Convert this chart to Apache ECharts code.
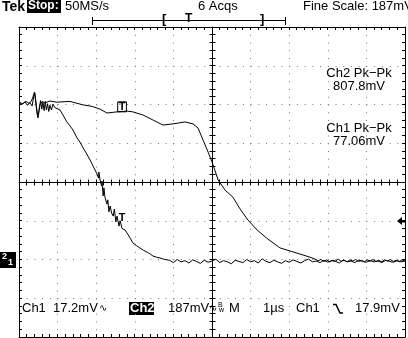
<!DOCTYPE html>
<html>
<head>
    <meta charset="utf-8">
    <title>Tek scope capture</title>
    <script src="https://cdn.jsdelivr.net/npm/echarts@6/dist/echarts.min.js"></script>
    <style>
        html, body { margin: 0; padding: 0; background: #fff; }
        #scope { width: 408px; height: 338px; }
    </style>
</head>
<body>
<div id="scope"></div>
<script>
    // time in µs (1 µs/div, trigger at centre), level in divisions from centre
    var xRange = [-5, 5];
    var yRange = [-4, 4];

    // Ch1: fast falling edge (17.2 mV/div)
    var ch1Trace = [
        [-5.00, 2.04], [-4.92, 2.00], [-4.85, 2.07], [-4.78, 1.98], [-4.72, 2.05], [-4.66, 1.96],
        [-4.62, 2.20], [-4.59, 2.30], [-4.56, 2.05], [-4.53, 1.80], [-4.50, 1.70], [-4.47, 1.95],
        [-4.44, 2.10], [-4.41, 1.88], [-4.38, 2.06], [-4.35, 1.84], [-4.32, 2.08], [-4.29, 1.86],
        [-4.26, 2.02], [-4.23, 1.82], [-4.20, 1.98], [-4.16, 1.86], [-4.12, 2.01], [-4.07, 1.92],
        [-4.02, 1.96], [-3.94, 1.86], [-3.86, 1.73], [-3.76, 1.55], [-3.68, 1.45], [-3.60, 1.34],
        [-3.50, 1.14], [-3.42, 1.03], [-3.34, 0.88], [-3.26, 0.75], [-3.16, 0.57], [-3.08, 0.41],
        [-2.98, 0.21], [-2.94, 0.10], [-2.93, 0.26], [-2.90, 0.05], [-2.86, -0.10], [-2.85, 0.02],
        [-2.82, -0.36], [-2.80, -0.15], [-2.77, -0.41], [-2.72, -0.57], [-2.70, -0.46], [-2.67, -0.77],
        [-2.64, -0.62], [-2.60, -0.80], [-2.56, -0.88], [-2.53, -0.70], [-2.49, -1.03], [-2.46, -0.88],
        [-2.41, -1.14], [-2.38, -1.00], [-2.33, -1.20], [-2.25, -1.24], [-2.20, -1.32], [-2.12, -1.45],
        [-2.05, -1.57], [-1.96, -1.64], [-1.87, -1.70], [-1.78, -1.76], [-1.68, -1.81], [-1.60, -1.86],
        [-1.53, -1.91], [-1.44, -1.94], [-1.35, -1.96], [-1.26, -1.99], [-1.17, -2.01],
        [-1.10, -2.02], [-1.00, -2.08], [-0.90, -2.00], [-0.80, -2.06], [-0.70, -2.03], [-0.60, -2.09],
        [-0.50, -2.01], [-0.40, -2.05], [-0.30, -2.10], [-0.20, -2.02], [-0.10, -2.07], [0.00, -2.04],
        [0.10, -1.99], [0.20, -2.08], [0.30, -2.03], [0.40, -2.06], [0.50, -2.11], [0.60, -2.02],
        [0.70, -2.05], [0.80, -2.08], [0.90, -2.00], [1.00, -2.06], [1.10, -2.03], [1.20, -2.09],
        [1.30, -1.98], [1.40, -2.05], [1.50, -2.08], [1.60, -2.02], [1.70, -2.06], [1.80, -2.10],
        [1.90, -2.03], [2.00, -2.07], [2.10, -2.01], [2.20, -2.05], [2.30, -2.09], [2.40, -2.03],
        [2.50, -1.99], [2.60, -2.06], [2.70, -2.04], [2.80, -2.08], [2.90, -2.02], [3.00, -2.07],
        [3.10, -2.03], [3.20, -2.05], [3.30, -2.09], [3.40, -2.01], [3.50, -2.06], [3.60, -2.04],
        [3.70, -2.08], [3.80, -2.02], [3.90, -2.05], [4.00, -2.07], [4.10, -2.03], [4.20, -2.06],
        [4.30, -2.04], [4.40, -2.08], [4.50, -2.02], [4.60, -2.05], [4.70, -2.07], [4.80, -2.03],
        [4.90, -2.06], [5.00, -2.04]
    ];

    // Ch2: slow falling edge (187 mV/div)
    var ch2Trace = [
        [-5.00, 2.06], [-4.90, 2.02], [-4.82, 2.08], [-4.74, 2.03], [-4.68, 2.09], [-4.64, 2.19],
        [-4.60, 2.32], [-4.57, 2.10], [-4.54, 1.81], [-4.51, 1.65], [-4.48, 1.85], [-4.45, 2.00],
        [-4.40, 2.08], [-4.33, 2.04], [-4.20, 2.09], [-4.02, 2.06], [-3.68, 2.08], [-3.34, 1.99],
        [-3.10, 1.95], [-2.90, 1.88], [-2.72, 1.78], [-2.46, 1.81], [-2.20, 1.83], [-2.05, 1.81],
        [-1.79, 1.73], [-1.53, 1.60], [-1.27, 1.47], [-1.01, 1.50], [-0.70, 1.55], [-0.49, 1.50],
        [-0.36, 1.39], [-0.23, 1.08], [-0.10, 0.77], [0.00, 0.52], [0.16, 0.05], [0.34, -0.21],
        [0.54, -0.39], [0.73, -0.70], [0.93, -0.98], [1.17, -1.24], [1.42, -1.45], [1.76, -1.70],
        [2.02, -1.78], [2.28, -1.86], [2.54, -1.94], [2.67, -1.99],
        [2.75, -2.03], [2.82, -2.00], [2.90, -2.05], [2.97, -2.01], [3.05, -2.06], [3.12, -2.02],
        [3.20, -2.04], [3.27, -1.99], [3.35, -2.05], [3.42, -2.02], [3.50, -2.06], [3.57, -2.01],
        [3.65, -2.04], [3.72, -2.00], [3.80, -2.05], [3.87, -2.02], [3.95, -2.06], [4.02, -2.01],
        [4.10, -2.04], [4.17, -2.00], [4.25, -2.05], [4.32, -2.02], [4.40, -2.06], [4.47, -2.01],
        [4.55, -2.04], [4.62, -2.00], [4.70, -2.05], [4.77, -2.02], [4.85, -2.06], [4.92, -2.01],
        [5.00, -2.04]
    ];

    // trigger point markers on the traces
    var ch1Marker = [-2.33, -0.93];
    var ch2Marker = [-2.33, 1.94];

    var topTexts = ['50MS/s', '6 Acqs', 'Fine Scale: 187mV'];
    var measureTexts = ['Ch2 Pk\u2212Pk', '807.8mV', 'Ch1 Pk\u2212Pk', '77.06mV'];
    var bottomTexts = ['Ch1', '17.2mV', 'Ch2', '187mV', 'M', '1\u00B5s', 'Ch1', '17.9mV'];

    var FONT = '"Liberation Sans", Arial, sans-serif';
    var INK = '#000';
    var DOT = '#7a7a7a';
    var TICK = 3;

    // graticule minor-tick positions: 5 per division
    var xTicks = [], yTicks = [];
    for (var i = xRange[0] * 5; i <= xRange[1] * 5; i++) xTicks.push([i / 5, 0]);
    for (var i2 = yRange[0] * 5; i2 <= yRange[1] * 5; i2++) yTicks.push([0, i2 / 5]);

    function axisBase(range, extra) {
        var ax = {
            type: 'value',
            min: range[0],
            max: range[1],
            interval: 1,
            axisLabel: { show: false },
            axisLine: { show: true, onZero: false, lineStyle: { color: INK, width: 1 } },
            axisTick: { show: false },
            splitLine: { show: false }
        };
        for (var k in extra) {
            if (typeof extra[k] === 'object' && ax[k]) {
                for (var j in extra[k]) ax[k][j] = extra[k][j];
            } else {
                ax[k] = extra[k];
            }
        }
        return ax;
    }

    function px(v) { return Math.round(v - 0.5) + 0.5; }

    function tickLine(x1, y1, x2, y2) {
        return { type: 'line', shape: { x1: x1, y1: y1, x2: x2, y2: y2 },
            style: { stroke: INK, lineWidth: 1 } };
    }

    // ticks along the border and both centre lines
    function renderXTick(params, api) {
        var t = api.value(0);
        var b = api.coord([t, yRange[0]]), top = api.coord([t, yRange[1]]), c = api.coord([t, 0]);
        var x = px(b[0]);
        return { type: 'group', children: [
            tickLine(x, b[1], x, b[1] - TICK),
            tickLine(x, top[1], x, top[1] + TICK),
            tickLine(x, px(c[1]) - TICK, x, px(c[1]) + TICK)
        ] };
    }

    function renderYTick(params, api) {
        var v = api.value(1);
        var l = api.coord([xRange[0], v]), r = api.coord([xRange[1], v]), c = api.coord([0, v]);
        var y = px(l[1]);
        return { type: 'group', children: [
            tickLine(l[0], y, l[0] + TICK, y),
            tickLine(r[0], y, r[0] - TICK, y),
            tickLine(px(c[0]) - TICK, y, px(c[0]) + TICK, y)
        ] };
    }

    var chart = echarts.init(document.getElementById('scope'));

    var option = {
        animation: false,
        backgroundColor: '#fff',
        grid: { left: 19, top: 27, width: 386, height: 310 },
        xAxis: [
            axisBase(xRange, {
                position: 'bottom',
                splitLine: { show: true, lineStyle: { color: DOT, width: 1, type: [1, 6.75] } }
            }),
            axisBase(xRange, { position: 'top' }),
            axisBase(xRange, {
                position: 'bottom',
                axisLine: { show: true, onZero: true, onZeroAxisIndex: 0, lineStyle: { color: INK, width: 1 } }
            })
        ],
        yAxis: [
            axisBase(yRange, {
                position: 'left',
                splitLine: { show: true, lineStyle: { color: DOT, width: 1, type: [1, 6.72] } }
            }),
            axisBase(yRange, { position: 'right' }),
            axisBase(yRange, {
                position: 'left',
                axisLine: { show: true, onZero: true, onZeroAxisIndex: 0, lineStyle: { color: INK, width: 1 } }
            })
        ],
        series: [
            {
                name: 'xTicks', type: 'custom', data: xTicks, renderItem: renderXTick,
                clip: false, silent: true, z: 3
            },
            {
                name: 'yTicks', type: 'custom', data: yTicks, renderItem: renderYTick,
                clip: false, silent: true, z: 3
            },
            {
                name: 'Ch1',
                type: 'line',
                data: ch1Trace,
                showSymbol: false,
                symbol: 'none',
                z: 5,
                lineStyle: { color: INK, width: 1 },
                markPoint: {
                    symbol: 'rect', symbolSize: 1, itemStyle: { color: 'transparent' },
                    label: { show: true, formatter: 'T', position: 'inside', color: INK,
                        fontFamily: FONT, fontSize: 11, fontWeight: 'bold' },
                    data: [{ coord: ch1Marker }]
                }
            },
            {
                name: 'Ch2',
                type: 'line',
                data: ch2Trace,
                showSymbol: false,
                symbol: 'none',
                z: 5,
                lineStyle: { color: INK, width: 1 },
                markPoint: {
                    symbol: 'rect', symbolSize: 1, itemStyle: { color: 'transparent' },
                    label: { show: true, formatter: 'T', position: 'inside', color: INK,
                        fontFamily: FONT, fontSize: 11, fontWeight: 'bold',
                        borderColor: INK, borderWidth: 1, padding: [0, 1, -1, 1] },
                    data: [{ coord: ch2Marker }]
                }
            }
        ],
        graphic: [
            // status line
            { type: 'text', left: 2, top: 0, style: { text: 'Tek', font: 'bold 14px ' + FONT, fill: INK } },
            { type: 'rect', shape: { x: 27, y: 0, width: 34, height: 13 }, style: { fill: INK } },
            { type: 'text', left: 28, top: 0, style: { text: 'Stop:', font: 'bold 12px ' + FONT, fill: '#fff' } },
            { type: 'text', left: 65, top: 0, style: { text: topTexts[0], font: '13px ' + FONT, fill: INK } },
            { type: 'text', left: 198, top: 0, style: { text: topTexts[1], font: '13px ' + FONT, fill: INK } },
            { type: 'text', left: 303, top: 0, style: { text: topTexts[2], font: '13px ' + FONT, fill: INK } },
            // record / trigger position bar
            { type: 'line', shape: { x1: 92, y1: 20.5, x2: 286, y2: 20.5 }, style: { stroke: INK, lineWidth: 1 } },
            { type: 'line', shape: { x1: 92.5, y1: 17, x2: 92.5, y2: 25 }, style: { stroke: INK, lineWidth: 1 } },
            { type: 'line', shape: { x1: 285.5, y1: 17, x2: 285.5, y2: 25 }, style: { stroke: INK, lineWidth: 1 } },
            { type: 'text', left: 162, top: 13, style: { text: '[', font: 'bold 13px ' + FONT, fill: INK } },
            { type: 'text', left: 185, top: 13, style: { text: 'T', font: 'bold 12px ' + FONT, fill: INK } },
            { type: 'text', left: 260, top: 13, style: { text: ']', font: 'bold 13px ' + FONT, fill: INK } },
            // measurements
            { type: 'text', x: 359, y: 73, style: { text: measureTexts[0], font: '13px ' + FONT, fill: INK, align: 'center', verticalAlign: 'middle' } },
            { type: 'text', x: 359, y: 86, style: { text: measureTexts[1], font: '13px ' + FONT, fill: INK, align: 'center', verticalAlign: 'middle' } },
            { type: 'text', x: 359, y: 128, style: { text: measureTexts[2], font: '13px ' + FONT, fill: INK, align: 'center', verticalAlign: 'middle' } },
            { type: 'text', x: 359, y: 141, style: { text: measureTexts[3], font: '13px ' + FONT, fill: INK, align: 'center', verticalAlign: 'middle' } },
            // ground marker (left) and trigger level arrow (right)
            { type: 'rect', shape: { x: 0, y: 252, width: 16, height: 16 }, style: { fill: INK } },
            { type: 'text', left: 2, top: 252, style: { text: '2', font: 'bold 9px ' + FONT, fill: '#fff' } },
            { type: 'text', left: 8, top: 258, style: { text: '1', font: 'bold 9px ' + FONT, fill: '#fff' } },
            { type: 'polygon', shape: { points: [[397, 221], [402, 217], [402, 225]] }, style: { fill: INK } },
            { type: 'line', shape: { x1: 401, y1: 221.5, x2: 405, y2: 221.5 }, style: { stroke: INK, lineWidth: 2 } },
            // channel / timebase readout
            { type: 'text', left: 22, top: 302, style: { text: bottomTexts[0], font: '13px ' + FONT, fill: INK } },
            { type: 'text', left: 53, top: 302, style: { text: bottomTexts[1], font: '13px ' + FONT, fill: INK } },
            { type: 'text', left: 99, top: 303, style: { text: '\u223F', font: '10px "DejaVu Sans", sans-serif', fill: INK } },
            { type: 'rect', shape: { x: 129, y: 302, width: 25, height: 13 }, style: { fill: INK } },
            { type: 'text', left: 130, top: 302, style: { text: bottomTexts[2], font: 'bold 13px ' + FONT, fill: '#fff' } },
            { type: 'text', left: 168, top: 302, style: { text: bottomTexts[3], font: '13px ' + FONT, fill: INK } },
            { type: 'text', left: 209, top: 303, style: { text: '\u223F', font: '10px "DejaVu Sans", sans-serif', fill: INK } },
            { type: 'text', left: 218, top: 302, style: { text: 'B', font: '7px ' + FONT, fill: INK } },
            { type: 'text', left: 219, top: 307, style: { text: 'w', font: '7px ' + FONT, fill: INK } },
            { type: 'text', left: 229, top: 302, style: { text: bottomTexts[4], font: '13px ' + FONT, fill: INK } },
            { type: 'text', left: 263, top: 302, style: { text: bottomTexts[5], font: '13px ' + FONT, fill: INK } },
            { type: 'text', left: 296, top: 302, style: { text: bottomTexts[6], font: '13px ' + FONT, fill: INK } },
            { type: 'polyline', shape: { points: [[333, 304.5], [336, 304.5], [340, 313], [343, 313]] }, style: { stroke: INK, lineWidth: 1.5, fill: null } },
            { type: 'text', left: 355, top: 302, style: { text: bottomTexts[7], font: '13px ' + FONT, fill: INK } }
        ]
    };

    chart.setOption(option);

    window.onresize = function () {
        chart.resize();
    };
</script>
</body>
</html>
